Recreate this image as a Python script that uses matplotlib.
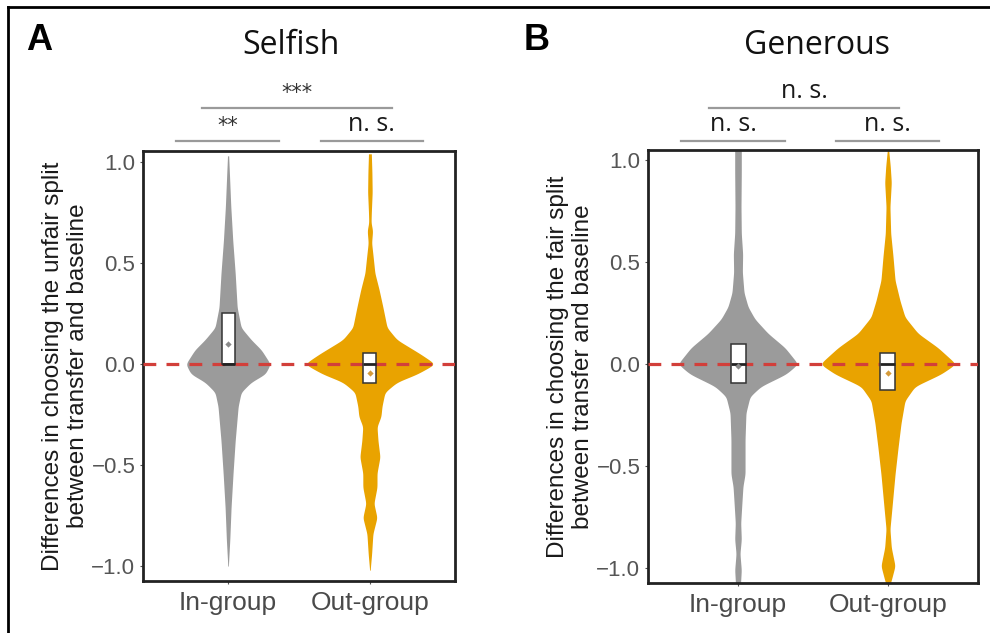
import numpy as np
import matplotlib
matplotlib.use("Agg")
import matplotlib.pyplot as plt
from matplotlib.lines import Line2D

plt.rcParams['font.family'] = ['Liberation Sans', 'DejaVu Sans']

groups = ["In-group", "Out-group"]

# Panel A (Selfish) violin profiles: y values and half-widths (data units)
a_in_y = [1.03, 0.95, 0.78, 0.61, 0.45, 0.28, 0.18, 0.12, 0.07, 0.0, -0.05, -0.09, -0.14, -0.21, -0.38, -0.54, -0.71, -0.87, -1.0]
a_in_w = [0.004, 0.009, 0.019, 0.033, 0.050, 0.064, 0.092, 0.163, 0.234, 0.298, 0.262, 0.163, 0.092, 0.071, 0.050, 0.035, 0.021, 0.012, 0.002]
a_out_y = [1.04, 0.95, 0.85, 0.75, 0.70, 0.66, 0.60, 0.53, 0.45, 0.37, 0.28, 0.18, 0.12, 0.05, 0.0, -0.05, -0.09, -0.14, -0.21, -0.26, -0.31, -0.38, -0.46, -0.54, -0.61, -0.69, -0.76, -0.84, -0.94, -1.02]
a_out_w = [0.010, 0.014, 0.016, 0.010, 0.008, 0.019, 0.012, 0.023, 0.035, 0.064, 0.092, 0.121, 0.191, 0.355, 0.461, 0.333, 0.191, 0.106, 0.085, 0.078, 0.050, 0.057, 0.071, 0.050, 0.050, 0.028, 0.050, 0.021, 0.012, 0.002]

# Panel B (Generous) violin profiles
b_in_y = [1.10, 1.0, 0.94, 0.77, 0.64, 0.54, 0.45, 0.35, 0.28, 0.22, 0.15, 0.08, 0.0, -0.05, -0.11, -0.16, -0.24, -0.37, -0.54, -0.60, -0.67, -0.78, -0.86, -0.93, -1.01, -1.10]
b_in_w = [0.022, 0.022, 0.022, 0.020, 0.022, 0.031, 0.029, 0.040, 0.067, 0.113, 0.200, 0.313, 0.400, 0.320, 0.153, 0.080, 0.053, 0.047, 0.047, 0.033, 0.027, 0.018, 0.022, 0.013, 0.022, 0.015]
b_out_y = [1.06, 0.97, 0.89, 0.77, 0.64, 0.53, 0.41, 0.31, 0.23, 0.15, 0.08, 0.0, -0.05, -0.11, -0.18, -0.29, -0.41, -0.54, -0.70, -0.81, -0.90, -0.99, -1.06, -1.10]
b_out_w = [0.003, 0.015, 0.022, 0.013, 0.018, 0.033, 0.047, 0.080, 0.113, 0.200, 0.333, 0.453, 0.353, 0.180, 0.113, 0.087, 0.067, 0.047, 0.027, 0.013, 0.022, 0.047, 0.022, 0.005]

# Box statistics: [lower quartile, median, upper quartile], mean
a_box = [[0.0, 0.0, 0.25], [-0.095, 0.0, 0.055]]
a_mean = [0.10, -0.045]
b_box = [[-0.095, 0.0, 0.10], [-0.13, 0.0, 0.055]]
b_mean = [-0.01, -0.045]

a_sig = ["**", "n. s.", "***"]
b_sig = ["n. s.", "n. s.", "n. s."]

yticks = [-1.0, -0.5, 0.0, 0.5, 1.0]
ytick_labels = ["\u22121.0", "\u22120.5", "0.0", "0.5", "1.0"]

GRAY = "#9b9b9b"
ORANGE = "#E9A300"
colors = [GRAY, ORANGE]
mean_colors = ["#8a8a8a", "#D49A3A"]

fig = plt.figure(figsize=(9.9, 6.33), dpi=100)

def smooth_profile(y, w):
    y = np.asarray(y)[::-1]
    w = np.asarray(w)[::-1]
    yf = np.linspace(y.min(), y.max(), 800)
    wf = np.interp(yf, y, w)
    step = yf[1] - yf[0]
    sig = 0.01 / step
    k = np.arange(-int(4 * sig), int(4 * sig) + 1)
    kern = np.exp(-0.5 * (k / sig) ** 2)
    kern /= kern.sum()
    ws = np.convolve(np.pad(wf, len(k) // 2, mode='edge'), kern, mode='valid')
    return yf, ws

def panel(rect, profiles, boxes, means, box_w, ylim, ylabel, sig, brk):
    ax = fig.add_axes(rect)
    for i, (py, pw) in enumerate(profiles):
        pos = i + 1
        yf, ws = smooth_profile(py, pw)
        ax.fill_betweenx(yf, pos - ws, pos + ws, color=colors[i], linewidth=0, zorder=2)
    ax.axhline(0, color="#D23F3A", linewidth=2.3, linestyle=(0, (4, 3.2)), zorder=3)
    for i, (bx, mn) in enumerate(zip(boxes, means)):
        pos = i + 1
        ax.bar(pos, bx[2] - bx[0], bottom=bx[0], width=box_w, facecolor="white",
               edgecolor="#333333", linewidth=1.1, zorder=4)
        ax.hlines(bx[1], pos - box_w / 2, pos + box_w / 2, color="#222222", linewidth=2.0, zorder=5)
        ax.plot([pos], [mn], marker="D", markersize=3.2, color=mean_colors[i],
                markeredgewidth=0, zorder=6)
    ax.set_xlim(0.4, 2.6)
    ax.set_ylim(*ylim)
    ax.set_xticks([1, 2])
    ax.set_xticklabels(groups, fontsize=19, color="#4a4a4a")
    ax.set_yticks(yticks)
    ax.set_yticklabels(ytick_labels, fontsize=16, color="#555555")
    ax.tick_params(axis="both", length=2.5, width=0.8, color="#555555", pad=3)
    ax.tick_params(axis="x", pad=5)
    for s in ax.spines.values():
        s.set_linewidth(2.0)
        s.set_color("#222222")
    ax.set_ylabel(ylabel, fontsize=17.5, color="#1a1a1a", linespacing=1.15, labelpad=2)
    # significance brackets
    (l1, l2, up, ylow, yup) = brk
    for (x0, x1), lab, yl in [(l1, sig[0], ylow), (l2, sig[1], ylow), (up, sig[2], yup)]:
        ax.add_line(Line2D([x0, x1], [yl, yl], color="#9a9a9a", linewidth=1.6, clip_on=False))
        if "*" in lab:
            ax.text((x0 + x1) / 2, yl + 0.025, lab, ha="center", va="bottom", fontsize=15,
                    color="#333333", fontfamily="DejaVu Sans")
        else:
            ax.text((x0 + x1) / 2, yl + 0.02, lab, ha="center", va="bottom", fontsize=18,
                    color="#1a1a1a", fontfamily="Open Sans")
    return ax

axA = panel([143 / 990, 1 - 581 / 633, 312 / 990, 430 / 633],
            [(a_in_y, a_in_w), (a_out_y, a_out_w)], a_box, a_mean, 0.092,
            (-1.074, 1.054),
            "Differences in choosing the unfair split\nbetween transfer and baseline",
            a_sig, ((0.631, 1.362), (1.652, 2.376), (0.816, 2.156), 1.104, 1.267))
axB = panel([648 / 990, 1 - 583 / 633, 330 / 990, 433 / 633],
            [(b_in_y, b_in_w), (b_out_y, b_out_w)], b_box, b_mean, 0.10,
            (-1.074, 1.049),
            "Differences in choosing the fair split\nbetween transfer and baseline",
            b_sig, ((0.62, 1.313), (1.653, 2.34), (0.807, 2.073), 1.093, 1.255))

fig.text(26 / 990, 1 - 41 / 633, "A", fontsize=26, fontweight="bold", va="center", ha="left")
fig.text(524 / 990, 1 - 41 / 633, "B", fontsize=26, fontweight="bold", va="center", ha="left")
fig.text(291 / 990, 1 - 45 / 633, "Selfish", fontsize=23, va="center", ha="center",
         fontfamily="Open Sans", color="#111111")
fig.text(817 / 990, 1 - 45 / 633, "Generous", fontsize=23, va="center", ha="center",
         fontfamily="Open Sans", color="#111111")

# outer border (left and top)
fig.add_artist(Line2D([8 / 990, 8 / 990], [0, 1 - 7 / 633], transform=fig.transFigure,
                      color="black", linewidth=2.0))
fig.add_artist(Line2D([8 / 990, 1], [1 - 7 / 633, 1 - 7 / 633], transform=fig.transFigure,
                      color="black", linewidth=2.0))

fig.savefig("out.png", dpi=100)
